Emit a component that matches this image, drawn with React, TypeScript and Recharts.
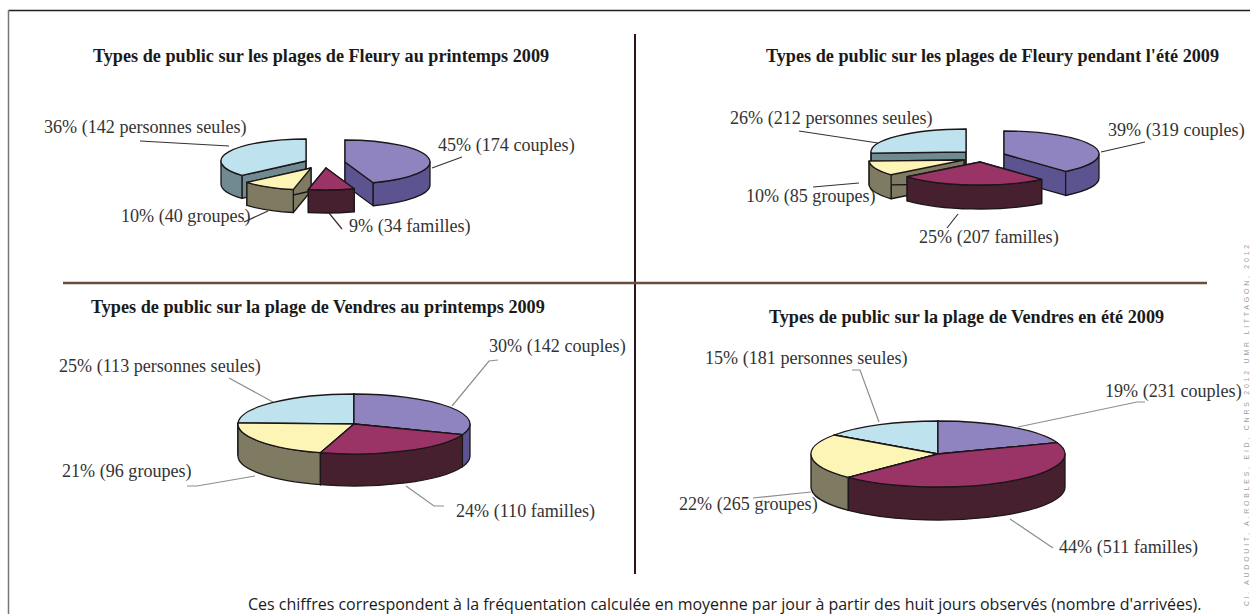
import { Pie, PieChart } from "recharts";

// clockwise from 12 o'clock, same order in every panel
const groupNames = ["couples", "familles", "groupes", "personnes seules"];

const fleuryPrintempsCounts = [174, 34, 40, 142];
const fleuryEteCounts = [319, 207, 85, 212];
const vendresPrintempsCounts = [142, 110, 96, 113];
const vendresEteCounts = [231, 511, 265, 181];

const fleuryPrintempsPct = [45, 9, 10, 36];
const fleuryEtePct = [39, 25, 10, 26];
const vendresPrintempsPct = [30, 24, 21, 25];
const vendresEtePct = [19, 44, 22, 15];

const topColors = ["#8f84bf", "#9a3366", "#fdf5b6", "#bfe3ee"];
const sideColors = ["#5c5491", "#47202f", "#7e7b62", "#6f8b91"];
const edgeColor = "#1c1618";
// back to front
const paintOrder = [3, 0, 2, 1];

const toRows = (counts: number[], pcts: number[]) =>
  counts.map((value, i) => ({
    name: groupNames[i],
    value,
    label: `${pcts[i]}% (${value} ${groupNames[i]})`,
  }));

const panels = [
  {
    title: "Types de public sur les plages de Fleury au printemps 2009",
    titleAt: [93, 62],
    rows: toRows(fleuryPrintempsCounts, fleuryPrintempsPct),
    cx: 325, cy: 163, rx: 85, ry: 22, depth: 23,
    explode: [[20, -1], [1, 5], [-14, 5], [-19, -2]],
    labelAt: [[438, 151], [349, 232], [121, 222], [44, 133]],
    leaders: [
      "432,168 462,157",
      "329,213 342,229",
      "244,222 268,211",
      "140,141 229,146",
    ],
    leaderColor: "#3a3032",
  },
  {
    title: "Types de public sur les plages de Fleury pendant l'été 2009",
    titleAt: [766, 62],
    rows: toRows(fleuryEteCounts, fleuryEtePct),
    cx: 985, cy: 156, rx: 95, ry: 23, depth: 24,
    explode: [[19, -2], [-5, 6], [-21, 4], [-19, -4]],
    labelAt: [[1108, 136], [919, 243], [746, 202], [730, 124]],
    leaders: [
      "1101,152 1145,142",
      "958,214 947,228",
      "813,187 859,183",
      "799,131 878,143",
    ],
    leaderColor: "#3a3032",
  },
  {
    title: "Types de public sur la plage de Vendres au printemps 2009",
    titleAt: [91, 313],
    rows: toRows(vendresPrintempsCounts, vendresPrintempsPct),
    cx: 354, cy: 424, rx: 116, ry: 30, depth: 32,
    explode: [[0, 0], [0, 0], [0, 0], [0, 0]],
    labelAt: [[489, 352], [456, 517], [62, 477], [59, 372]],
    leaders: [
      "498,360 489,361 452,406",
      "406,486 434,506 444,506",
      "187,486 197,486 255,476",
      "229,378 273,402",
    ],
    leaderColor: "#8d8d8a",
  },
  {
    title: "Types de public sur la plage de Vendres en été 2009",
    titleAt: [769, 323],
    rows: toRows(vendresEteCounts, vendresEtePct),
    cx: 938, cy: 454, rx: 127, ry: 33, depth: 33,
    explode: [[0, 0], [0, 0], [0, 0], [0, 0]],
    labelAt: [[1105, 397], [1059, 553], [679, 510], [705, 364]],
    leaders: [
      "1145,402 1137,402 1018,427",
      "1010,519 1053,548",
      "811,492 753,498",
      "852,370 860,370 879,422",
    ],
    leaderColor: "#8d8d8a",
  },
];

const footnote =
  "Ces chiffres correspondent à la fréquentation calculée en moyenne par jour à partir des huit jours observés (nombre d'arrivées).";
const sideCredit = "Cl. AUDOUIT, A.ROBLES, EID, CNRS 2012 UMR LITTAGON, 2012";

const RAD = Math.PI / 180;

// one sector drawn as a tilted slab: radial walls, rim, then the top face
function Slab(props: any) {
  const { cx, cy, outerRadius, startAngle, endAngle, top, side, ratio, depth } = props;
  const pt = (a: number, drop = 0) => [
    cx + outerRadius * Math.cos(a * RAD),
    cy - outerRadius * ratio * Math.sin(a * RAD) + drop,
  ];
  const arc = (to: number[], from: number, till: number, sweep: number) =>
    `A${outerRadius} ${outerRadius * ratio} 0 ${Math.abs(from - till) > 180 ? 1 : 0} ${sweep} ${to[0]} ${to[1]}`;
  const wall = (a: number) => {
    const p = pt(a);
    const q = pt(a, depth);
    return `M${cx} ${cy}L${p[0]} ${p[1]}L${q[0]} ${q[1]}L${cx} ${cy + depth}Z`;
  };

  // the rim shows only on the front half, angles 0 to -180
  const from = Math.min(startAngle, 0);
  const till = Math.max(endAngle, -180);
  let rim = null;
  if (from > till) {
    const a = pt(from);
    const b = pt(till);
    const c = pt(till, depth);
    const d = pt(from, depth);
    rim = `M${a[0]} ${a[1]}${arc(b, from, till, 1)}L${c[0]} ${c[1]}${arc(d, till, from, 0)}Z`;
  }
  const s = pt(startAngle);
  const e = pt(endAngle);
  const face = `M${cx} ${cy}L${s[0]} ${s[1]}${arc(e, startAngle, endAngle, 1)}Z`;
  const line = { stroke: edgeColor, strokeWidth: 1.3, strokeLinejoin: "round" as const };

  return (
    <g>
      <path d={wall(startAngle)} fill={side} {...line} />
      <path d={wall(endAngle)} fill={side} {...line} />
      {rim && <path d={rim} fill={side} {...line} />}
      <path d={face} fill={top} {...line} />
    </g>
  );
}

export default function App() {
  return (
    <div style={{ position: "absolute", left: 0, top: 0, width: 1250, height: 614, background: "#fff", overflow: "hidden" }}>
      <PieChart width={1250} height={614} margin={{ top: 0, right: 0, bottom: 0, left: 0 }}>
        {/* frame */}
        <line x1={8.5} y1={10.5} x2={1250} y2={10.5} stroke="#1f1f1f" strokeWidth={1.5} />
        <line x1={8.5} y1={10} x2={8.5} y2={614} stroke="#777" strokeWidth={1.5} />
        {/* cross */}
        <line x1={635} y1={34} x2={635} y2={574} stroke="#2a1512" strokeWidth={2} />
        <line x1={63} y1={283} x2={1207} y2={283} stroke="#6b4d40" strokeWidth={2.5} />

        {panels.map((panel, p) =>
          paintOrder.map((layer) => (
            <Pie
              key={`${p}-${layer}`}
              data={panel.rows}
              dataKey="value"
              nameKey="name"
              cx={panel.cx + panel.explode[layer][0]}
              cy={panel.cy + panel.explode[layer][1]}
              innerRadius={0}
              outerRadius={panel.rx}
              startAngle={90}
              endAngle={-270}
              stroke="none"
              isAnimationActive={false}
              shape={(sector: any) =>
                sector.index === layer ? (
                  <Slab
                    {...sector}
                    top={topColors[layer]}
                    side={sideColors[layer]}
                    ratio={panel.ry / panel.rx}
                    depth={panel.depth}
                  />
                ) : (
                  <g />
                )
              }
            />
          ))
        )}

        {panels.map((panel, p) => (
          <g key={p}>
            <text x={panel.titleAt[0]} y={panel.titleAt[1]} fontFamily="Liberation Serif" fontWeight="bold" fontSize={18.2} fill="#1a1a1a">
              {panel.title}
            </text>
            {panel.rows.map((row, i) => (
              <g key={row.name}>
                <polyline points={panel.leaders[i]} fill="none" stroke={panel.leaderColor} strokeWidth={1.2} />
                <text x={panel.labelAt[i][0]} y={panel.labelAt[i][1]} fontFamily="Liberation Serif" fontSize={18.1} fill="#333">
                  {row.label}
                </text>
              </g>
            ))}
          </g>
        ))}

        <text x={248} y={610} fontFamily="Open Sans" fontSize={16} fill="#1a1a1a">
          {footnote}
        </text>
        <text x={0} y={0} transform="translate(1249,606) rotate(-90)" fontFamily="Liberation Sans" fontSize={7} letterSpacing={2.75} fill="#a0a0a0">
          {sideCredit}
        </text>
      </PieChart>
    </div>
  );
}
